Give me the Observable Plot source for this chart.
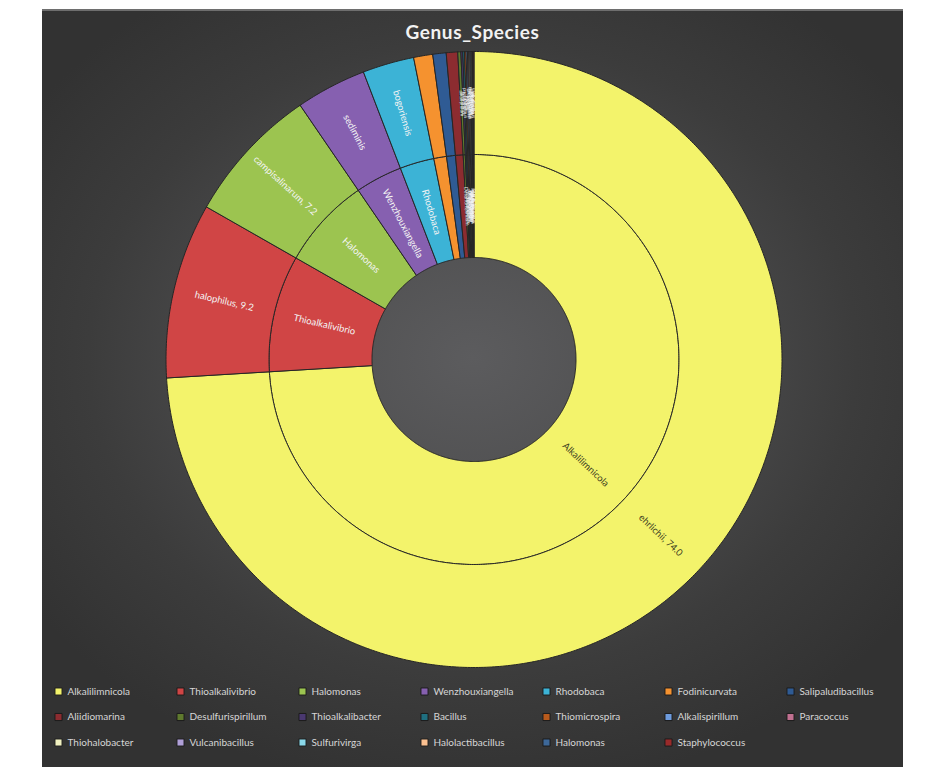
<!DOCTYPE html>
<html>
<head>
<meta charset="utf-8">
<script src="https://cdn.jsdelivr.net/npm/d3@7"></script>
<script src="https://cdn.jsdelivr.net/npm/@observablehq/plot@0.6"></script>
<style>
  html, body { margin: 0; padding: 0; background: #ffffff; }
  #frame {
    position: absolute; left: 42px; top: 9px; width: 861px; height: 758px;
    background: radial-gradient(ellipse 62% 58% at 50% 46%, #5c5c5e 0%, #4d4d4e 40%, #3c3c3c 72%, #323232 100%);
    overflow: hidden; font-family: Lato, "Open Sans", sans-serif;
  }
  #topline { position: absolute; left: 0; top: 0; width: 100%; height: 2px; background: #6e6e6e; }
  #title {
    position: absolute; left: 0; top: 11px; width: 100%; text-align: center;
    color: #f2f2f2; font: bold 19px Lato, "Open Sans", sans-serif; letter-spacing: 0.6px;
  }
  #chart { position: absolute; left: 0; top: 0; }
  #chart svg { background: transparent; }
</style>
</head>
<body>
<div id="frame">
  <div id="chart"></div>
  <div id="topline"></div>
  <div id="title">Genus_Species</div>
</div>
<script>
// ---- data (percent of reads) ----
const genera = ["Alkalilimnicola", "Thioalkalivibrio", "Halomonas", "Wenzhouxiangella", "Rhodobaca",
  "Fodinicurvata", "Salipaludibacillus", "Aliidiomarina", "Desulfurispirillum", "Thioalkalibacter",
  "Bacillus", "Thiomicrospira", "Alkalispirillum", "Paracoccus", "Thiohalobacter",
  "Vulcanibacillus", "Sulfurivirga", "Halolactibacillus", "Halomonas", "Staphylococcus"];
const species = ["ehrlichii", "halophilus", "campisalinarum", "sediminis", "bogoriensis",
  "sediminis", "agaradhaerens", "haloalkalitolerans", "alkaliphilum", "halophilus",
  "pseudofirmus", "cyclica", "mobile", "alkalitolerans", "thiocyanaticus",
  "modesticaldus", "caldicuralii", "alkaliphilus", "alkaliphila", "saprophyticus"];
const values = [74.0, 9.2, 7.2, 3.7, 2.7, 1.0, 0.7, 0.6, 0.16, 0.1,
  0.09, 0.08, 0.07, 0.06, 0.06, 0.05, 0.05, 0.04, 0.04, 0.04];
const outerLabels = ["ehrlichii, 74.0", "halophilus, 9.2", "campisalinarum, 7.2", "sediminis", "bogoriensis"];
const colors = ["#f3f36b", "#d04545", "#9cc450", "#8660b0", "#3cb3d6",
  "#f5922f", "#2f5b94", "#8c2c30", "#5f7a2e", "#4a3870",
  "#1f6f80", "#b85a1c", "#6d9bdd", "#c07090", "#f0f0c0",
  "#b0a0d8", "#8ad8ea", "#fbc090", "#3d6899", "#9a2a2a"];

// ---- geometry ----
const R0 = 102, R1 = 205, R2 = 308;
const total = d3.sum(values);
let acc = 0;
const segs = genera.map((g, i) => {
  const a0 = acc / total * 2 * Math.PI; acc += values[i];
  const a1 = acc / total * 2 * Math.PI;
  return {i, g, s: species[i], v: values[i], col: colors[i], a0, a1};
});

function ringPoly(seg, r0, r1, key) {
  const pts = [];
  const n = Math.max(2, Math.ceil((seg.a1 - seg.a0) / (Math.PI / 360)));
  for (let k = 0; k <= n; k++) {
    const a = seg.a0 + (seg.a1 - seg.a0) * k / n;
    pts.push({id: key, col: seg.col, x: r1 * Math.sin(a), y: -r1 * Math.cos(a)});
  }
  for (let k = n; k >= 0; k--) {
    const a = seg.a0 + (seg.a1 - seg.a0) * k / n;
    pts.push({id: key, col: seg.col, x: r0 * Math.sin(a), y: -r0 * Math.cos(a)});
  }
  pts.push({...pts[0]});
  return pts;
}
const polys = segs.flatMap(s => [...ringPoly(s, R0, R1, "in" + s.i), ...ringPoly(s, R1, R2, "out" + s.i)]);

function rot(mid) {
  const deg = mid * 180 / Math.PI;
  return deg < 180 ? deg - 90 : deg - 270;
}
const labels = [];
segs.forEach(s => {
  const mid = (s.a0 + s.a1) / 2;
  const big = s.i < 5;
  if (!big && s.i < 8) return;
  const fs = big ? 9.5 : 5;
  const dark = s.i === 0;
  const rin = (R0 + R1) / 2, rout = (R1 + R2) / 2;
  labels.push({x: rin * Math.sin(mid), y: -rin * Math.cos(mid), text: s.g, rotate: rot(mid), fs, fill: dark ? "#3a3a20" : "#f4f4f4"});
  labels.push({x: rout * Math.sin(mid), y: -rout * Math.cos(mid), text: big ? outerLabels[s.i] : s.s, rotate: rot(mid), fs, fill: dark ? "#3a3a20" : "#f4f4f4"});
});

// legend grid: 7 columns
const legend = genera.map((g, i) => ({
  name: g, col: colors[i],
  x: 58 + 122 * (i % 7) - 473.5,
  y: 691 + 25.5 * Math.floor(i / 7) - 359
}));

const chart = Plot.plot({
  width: 861, height: 758, margin: 0,
  x: {domain: [-431.5, 429.5], axis: null},
  y: {domain: [408, -350], axis: null},
  color: {type: "identity"},
  style: {background: "transparent", fontFamily: "Lato, 'Open Sans', sans-serif"},
  marks: [
    Plot.line(polys, {x: "x", y: "y", z: "id", fill: "col", stroke: "#262626", strokeWidth: 1, strokeLinejoin: "miter"}),
    Plot.text(labels, {x: "x", y: "y", text: "text", rotate: "rotate", fontSize: "fs", fill: "fill"}),
    Plot.dot(legend, {x: "x", y: "y", symbol: "square", r: 4, fill: "col", stroke: "#1c1c1c", strokeWidth: 1}),
    Plot.text(legend, {x: d => d.x + 9, y: "y", text: "name", textAnchor: "start", fill: "#d6d6d6", fontSize: 10})
  ]
});
document.getElementById("chart").appendChild(chart);
</script>
</body>
</html>
